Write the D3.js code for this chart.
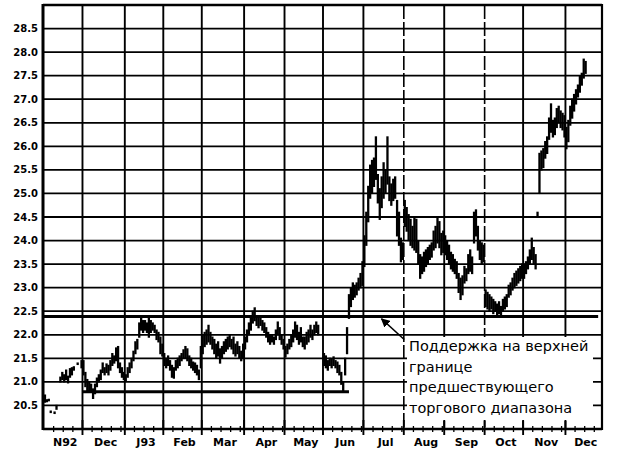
<!DOCTYPE html>
<html><head><meta charset="utf-8">
<script src="https://cdn.jsdelivr.net/npm/d3@7"></script>
<style>body{margin:0;background:#fff}svg{display:block}</style>
</head><body>
<svg id="c" width="624" height="455"></svg>
<script>
// ---------- data ----------
const months = ["N92","Dec","J93","Feb","Mar","Apr","May","Jun","Jul","Aug","Sep","Oct","Nov","Dec"];
const monthDays = [20,22,20,20,22,21,20,21,21,21,21,20,22,19];
const yTicks = [20.5,21.0,21.5,22.0,22.5,23.0,23.5,24.0,24.5,25.0,25.5,26.0,26.5,27.0,27.5,28.0,28.5];

// daily [low, high] per month (null = no bar)
const nov92 = [[20.57,20.72],[20.58,20.62],[20.6,20.63],[20.35,20.38],null,[20.33,20.36],[20.42,20.5],null,[21.0,21.1],[21.05,21.2],[21.0,21.15],[21.05,21.25],[20.98,21.12],[21.1,21.28],[21.15,21.3],[21.25,21.32],null,[21.37,21.4],null,[21.3,21.45]];
const dec92 = [[21.15,21.45],[20.9,21.2],[20.8,21.05],[20.78,21.0],[20.8,20.95],[20.65,20.85],[20.75,20.95],[20.9,21.08],[21.0,21.15],[21.05,21.25],[21.2,21.4],[21.15,21.3],[21.2,21.38],[21.15,21.35],[21.25,21.45],[21.35,21.6],[21.4,21.55],[21.45,21.72],[21.3,21.75],[21.2,21.4],[21.1,21.3],[21.05,21.2]];
const jan93 = [[21.02,21.15],[21.1,21.3],[21.2,21.4],[21.3,21.5],[21.45,21.65],[21.6,21.85],[21.7,21.9],[21.95,22.25],[22.1,22.4],[22.05,22.3],[22.1,22.3],[22.05,22.25],[21.95,22.35],[22.05,22.3],[22.1,22.25],[22.05,22.2],[21.9,22.1],[21.85,22.05],[21.6,21.95],[21.55,21.8]];
const feb93 = [[21.35,21.6],[21.3,21.5],[21.35,21.55],[21.25,21.45],[21.1,21.35],[21.08,21.3],[21.25,21.45],[21.3,21.5],[21.35,21.55],[21.45,21.6],[21.5,21.68],[21.5,21.75],[21.45,21.7],[21.35,21.55],[21.3,21.5],[21.25,21.42],[21.2,21.4],[21.15,21.35],[21.05,21.25],[21.3,21.75]];
const mar93 = [[21.6,22.0],[21.75,22.05],[21.8,22.1],[21.85,22.2],[21.8,22.05],[21.7,21.95],[21.6,21.9],[21.5,21.8],[21.55,21.85],[21.4,21.7],[21.5,21.75],[21.6,21.85],[21.65,21.9],[21.7,21.95],[21.75,22.0],[21.7,21.9],[21.6,21.95],[21.55,21.8],[21.6,21.85],[21.5,21.75],[21.45,21.65],[21.5,21.8]];
const apr93 = [[21.7,21.95],[21.85,22.1],[22.0,22.25],[22.1,22.4],[22.25,22.5],[22.3,22.57],[22.2,22.4],[22.15,22.35],[22.2,22.4],[22.1,22.3],[22.05,22.25],[21.95,22.15],[21.85,22.05],[21.8,22.0],[21.85,22.0],[21.8,21.95],[21.9,22.1],[22.0,22.27],[21.9,22.15],[21.8,22.0],[21.7,21.9]];
const may93 = [[21.53,21.75],[21.6,21.8],[21.7,21.9],[21.75,22.0],[21.85,22.1],[21.95,22.27],[21.9,22.2],[21.8,22.05],[21.85,22.15],[21.75,21.95],[21.7,21.95],[21.8,22.05],[21.85,22.1],[21.95,22.2],[21.9,22.1],[22.0,22.2],[22.05,22.27],[22.0,22.2],null,null];
const jun93 = [[21.35,21.6],[21.3,21.55],[21.25,21.45],[21.35,21.5],[21.3,21.48],[21.35,21.53],[21.3,21.45],[21.2,21.42],[21.15,21.35],[20.95,21.2],[20.78,21.0],[21.15,21.5],[21.6,22.15],[22.35,22.85],[22.6,23.0],[22.75,23.1],[22.8,23.05],[22.85,23.1],[22.95,23.2],[23.0,23.3],[23.05,23.55]];
const jul93 = [[23.45,24.1],[23.9,24.6],[24.4,25.15],[24.9,25.6],[25.0,25.7],[25.15,25.75],[25.3,26.2],[24.8,25.4],[24.45,25.1],[24.7,25.35],[24.9,25.65],[25.0,25.5],[25.2,26.2],[24.85,25.35],[24.75,25.2],[24.85,25.3],[24.9,25.35],[24.1,24.85],[23.9,24.6],[23.55,24.05],[23.6,23.95]];
const aug93 = [[24.3,24.85],[24.2,24.7],[24.0,24.55],[23.9,24.45],[23.85,24.3],[23.8,24.5],[23.75,24.45],[23.5,24.0],[23.2,23.7],[23.3,23.65],[23.35,23.75],[23.45,23.8],[23.5,23.85],[23.6,23.9],[23.65,23.95],[23.8,24.2],[23.85,24.3],[23.95,24.48],[23.85,24.4],[23.7,24.15],[23.75,24.2]];
const sep93 = [[23.7,24.1],[23.6,24.0],[23.5,23.9],[23.4,23.75],[23.35,23.7],[23.3,23.6],[23.2,23.55],[22.9,23.3],[22.75,23.2],[22.85,23.25],[23.1,23.45],[23.15,23.4],[23.3,23.7],[23.35,23.8],[23.3,23.65],[23.95,24.6],[24.1,24.65],[23.8,24.3],[23.6,24.0],[23.5,23.95],[23.55,23.9]];
const oct93 = [[22.6,22.95],[22.55,22.9],[22.5,22.85],[22.55,22.8],[22.45,22.75],[22.5,22.7],[22.42,22.65],[22.45,22.7],[22.42,22.6],[22.5,22.75],[22.55,22.8],[22.6,22.85],[22.8,23.05],[22.85,23.1],[22.95,23.2],[23.0,23.3],[23.05,23.35],[23.1,23.4],[23.15,23.45],[23.2,23.5]];
const nov93 = [[23.2,23.5],[23.3,23.55],[23.4,23.65],[23.5,23.8],[23.6,24.05],[23.5,23.85],[23.4,23.7],[24.5,24.6],[25.0,25.85],[25.5,25.9],[25.55,25.95],[25.75,26.1],[25.85,26.2],[26.15,26.6],[26.3,26.9],[26.2,26.55],[26.25,26.6],[26.4,26.8],[26.5,26.85],[26.4,26.75],[26.35,26.7],[26.2,26.65]];
const dec93 = [[25.95,26.4],[26.1,26.55],[26.45,26.85],[26.6,27.0],[26.75,27.1],[26.9,27.2],[27.05,27.3],[27.15,27.5],[27.3,27.55],[27.45,27.85],[27.55,27.8],null,null,null,null,null,null,null,null];

// horizontal reference lines: [value, fromDay, toDay]
const supportLine = [22.39, 0, 288];
const rangeLowLine = [20.79, 20, 158.5];
const noteLines = ["Поддержка на верхней", "границе", "предшествующего", "торгового диапазона"];
const arrowTail = [187.2, 21.9];
const arrowTip = [175.4, 22.34];

// ---------- chart ----------
const monthData = [nov92,dec92,jan93,feb93,mar93,apr93,may93,jun93,jul93,aug93,sep93,oct93,nov93,dec93];
const monthStarts = [];
let acc = 0;
monthDays.forEach(n => { monthStarts.push(acc); acc += n; });
const totalDays = acc;

const bars = [];
monthData.forEach((arr, m) => arr.forEach((b, i) => { if (b) bars.push({day: monthStarts[m] + i, lo: b[0], hi: b[1]}); }));

const L = 43, R = 602, T = 5, B = 429;
const x = d3.scaleLinear().domain([0, totalDays]).range([44, R]);
const y = d3.scaleLinear().domain([20, 29]).range([B, T]);

const svg = d3.select("#c");
svg.append("rect").attr("width", 624).attr("height", 455).attr("fill", "#fff");

// horizontal gridlines
svg.append("g").selectAll("line").data(yTicks).join("line")
  .attr("x1", L).attr("x2", R).attr("y1", d => y(d)).attr("y2", d => y(d))
  .attr("stroke", "#000").attr("stroke-width", 1.8);

// vertical month gridlines
svg.append("g").selectAll("line").data(monthStarts.slice(1)).join("line")
  .attr("x1", d => x(d)).attr("x2", d => x(d)).attr("y1", T).attr("y2", B)
  .attr("stroke", "#000")
  .attr("stroke-width", (d, i) => (i === 8 || i === 10) ? 1.6 : 1.9)
  .attr("stroke-dasharray", (d, i) => (i === 8 || i === 10) ? "14,3" : null);

// y labels
svg.append("g").selectAll("text").data(yTicks).join("text")
  .attr("x", 38).attr("y", d => y(d)).attr("dy", "0.35em")
  .attr("text-anchor", "end")
  .attr("font-family", "DejaVu Sans").attr("font-weight", "bold").attr("font-size", 10)
  .text(d => d.toFixed(1));

// reference lines
[supportLine, rangeLowLine].forEach(([v, a, b]) => {
  svg.append("line").attr("x1", x(a)).attr("x2", x(b)).attr("y1", y(v)).attr("y2", y(v))
    .attr("stroke", "#000").attr("stroke-width", 3);
});

// price bars
svg.append("g").selectAll("line").data(bars).join("line")
  .attr("x1", d => x(d.day + 0.5)).attr("x2", d => x(d.day + 0.5))
  .attr("y1", d => y(d.hi) - 0.6).attr("y2", d => y(d.lo) + 0.6)
  .attr("stroke", "#000").attr("stroke-width", 2.3);

// white label box
svg.append("rect").attr("x", 407).attr("y", 337).attr("width", 186).attr("height", 84).attr("fill", "#fff");

// bottom axis ticks
const minor = [];
monthStarts.forEach((s, m) => { for (let k = 5; k < monthDays[m]; k += 5) minor.push(s + k); });
svg.append("g").selectAll("line").data(minor).join("line")
  .attr("x1", d => x(d)).attr("x2", d => x(d)).attr("y1", B - 3).attr("y2", B + 3)
  .attr("stroke", "#000").attr("stroke-width", 1.3);
svg.append("g").selectAll("line").data(monthStarts.slice(1)).join("line")
  .attr("x1", d => x(d)).attr("x2", d => x(d)).attr("y1", B - 9).attr("y2", B + 6)
  .attr("stroke", "#000").attr("stroke-width", 1.9);

// borders
svg.append("line").attr("x1", L).attr("x2", L).attr("y1", T - 1).attr("y2", B + 1).attr("stroke", "#000").attr("stroke-width", 3);
svg.append("line").attr("x1", R).attr("x2", R).attr("y1", T - 1).attr("y2", B + 1).attr("stroke", "#000").attr("stroke-width", 2.2);
svg.append("line").attr("x1", L).attr("x2", R).attr("y1", T).attr("y2", T).attr("stroke", "#000").attr("stroke-width", 2.6);
svg.append("line").attr("x1", L).attr("x2", R).attr("y1", B).attr("y2", B).attr("stroke", "#000").attr("stroke-width", 2.6);

// month labels
svg.append("g").selectAll("text").data(months).join("text")
  .attr("x", (d, i) => x(monthStarts[i] + monthDays[i] / 2) + 2)
  .attr("y", 446)
  .attr("text-anchor", "middle")
  .attr("font-family", "DejaVu Sans").attr("font-weight", "bold").attr("font-size", 11)
  .text(d => d);

// annotation text
svg.append("g").selectAll("text").data(noteLines).join("text")
  .attr("x", 409).attr("y", (d, i) => 351 + i * 20.5)
  .attr("font-family", "DejaVu Sans").attr("font-size", 14.5)
  .text(d => d);

// arrow
svg.append("defs").append("marker").attr("id", "ah")
  .attr("viewBox", "0 0 10 10").attr("refX", 9).attr("refY", 5)
  .attr("markerWidth", 9).attr("markerHeight", 9).attr("markerUnits", "userSpaceOnUse")
  .attr("orient", "auto")
  .append("path").attr("d", "M0,0 L10,5 L0,10 Z").attr("fill", "#000");
svg.append("line")
  .attr("x1", x(arrowTail[0])).attr("y1", y(arrowTail[1]))
  .attr("x2", x(arrowTip[0])).attr("y2", y(arrowTip[1]))
  .attr("stroke", "#000").attr("stroke-width", 1.6).attr("marker-end", "url(#ah)");
</script>
</body></html>
